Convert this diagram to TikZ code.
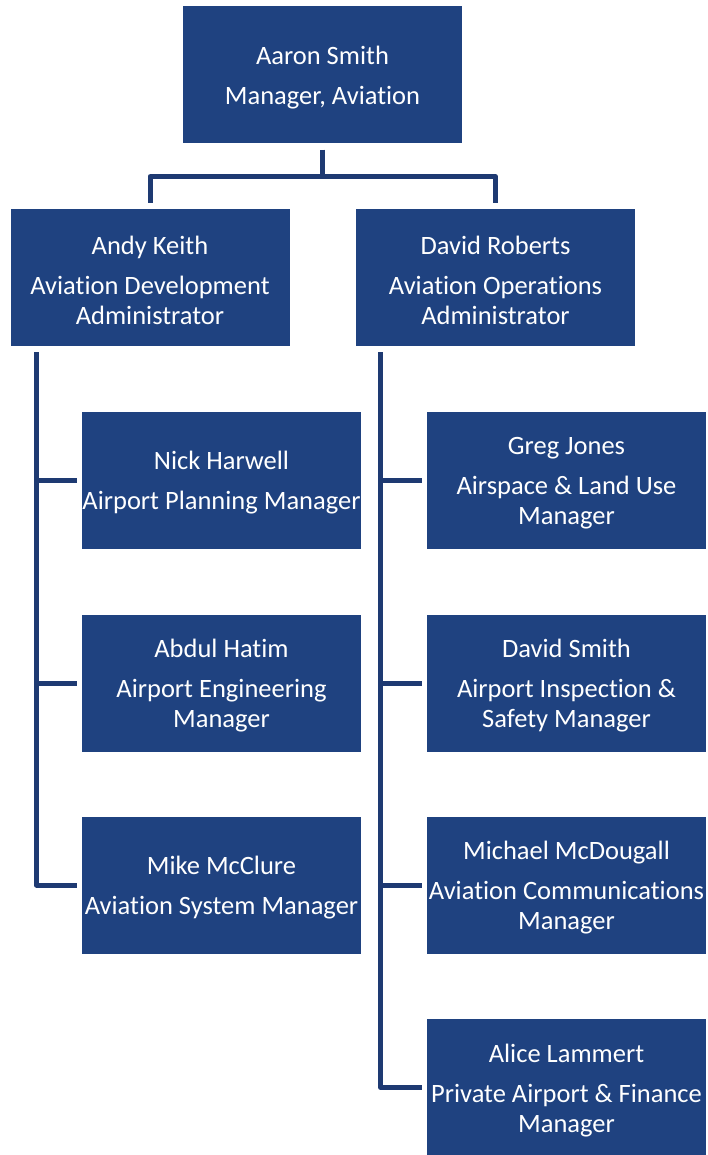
\documentclass[tikz,border=0pt]{standalone}
\usepackage{fontspec}
\setmainfont{Carlito}[RawFeature={-liga;-clig;-calt;-dlig}]
\definecolor{boxblue}{HTML}{1F4280}
\definecolor{lineblue}{HTML}{1E3A72}
\begin{document}
\begin{tikzpicture}[x=1pt,y=-1pt,
  orgbox/.style={fill=boxblue, draw=none, minimum width=279pt, minimum height=137pt, inner sep=0pt},
  orgtext/.style={text=white, align=center, inner sep=0pt, yshift=-3pt, font=\fontsize{26.5}{30}\selectfont},
  conn/.style={draw=lineblue, line width=5pt, line join=round}]
\useasboundingbox (0,0) rectangle (708,1155);
\fill[white] (0,0) rectangle (708,1155);
\node[orgbox, label={[orgtext]center:{Aaron Smith\\[10pt]Manager, Aviation}}] (top) at (322.5,75) {};
\node[orgbox, label={[orgtext]center:{Andy Keith\\[10pt]Aviation Development\\Administrator}}] (andy) at (150,277.5) {};
\node[orgbox, label={[orgtext]center:{David Roberts\\[10pt]Aviation Operations\\Administrator}}] (david) at (495.5,277.5) {};
\node[orgbox, label={[orgtext]center:{Nick Harwell\\[10pt]Airport Planning Manager}}] (nick) at (221.5,480) {};
\node[orgbox, label={[orgtext]center:{Abdul Hatim\\[10pt]Airport Engineering\\Manager}}] (abdul) at (221.5,683) {};
\node[orgbox, label={[orgtext]center:{Mike McClure\\[10pt]Aviation System Manager}}] (mike) at (221.5,885) {};
\node[orgbox, label={[orgtext]center:{Greg Jones\\[10pt]Airspace \& Land Use\\Manager}}] (greg) at (566.5,480) {};
\node[orgbox, label={[orgtext]center:{David Smith\\[10pt]Airport Inspection \&\\Safety Manager}}] (dsmith) at (566.5,683) {};
\node[orgbox, label={[orgtext]center:{Michael McDougall\\[10pt]Aviation Communications\\Manager}}] (michael) at (566.5,885) {};
\node[orgbox, label={[orgtext]center:{Alice Lammert\\[10pt]Private Airport \& Finance\\Manager}}] (alice) at (566.5,1087.5) {};
% top connectors
\coordinate (tb) at ([yshift=-6pt]top.south);
\coordinate (bar) at ([yshift=-33pt]top.south);
\draw[conn] (tb) -- (bar) -| ([yshift=6pt]andy.north);
\draw[conn] (bar) -| ([yshift=6pt]david.north);
% left column
\coordinate (ls) at ([xshift=26pt,yshift=-6pt]andy.south west);
\draw[conn] (ls) |- ([xshift=-5pt]mike.west);
\draw[conn] (ls |- nick.west) -- ([xshift=-5pt]nick.west);
\draw[conn] (ls |- abdul.west) -- ([xshift=-5pt]abdul.west);
% right column
\coordinate (rs) at ([xshift=25pt,yshift=-6pt]david.south west);
\draw[conn] (rs) |- ([xshift=-5pt]alice.west);
\draw[conn] (rs |- greg.west) -- ([xshift=-5pt]greg.west);
\draw[conn] (rs |- dsmith.west) -- ([xshift=-5pt]dsmith.west);
\draw[conn] (rs |- michael.west) -- ([xshift=-5pt]michael.west);
\end{tikzpicture}
\end{document}
